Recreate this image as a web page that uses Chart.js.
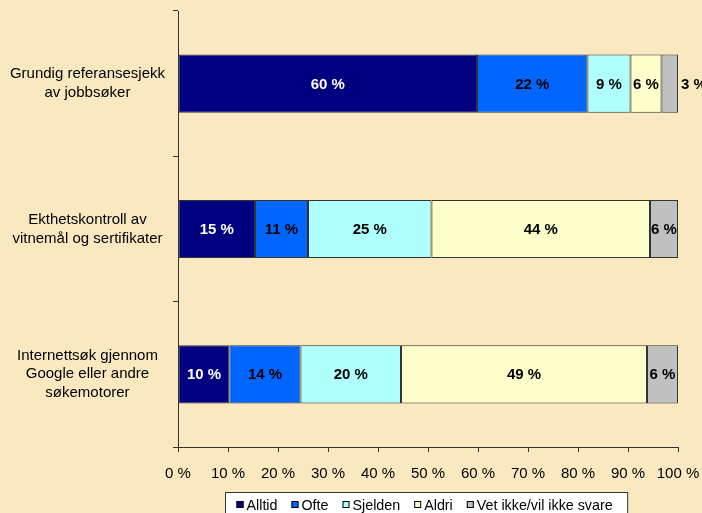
<!DOCTYPE html>
<html>
<head>
<meta charset="utf-8">
<script src="https://cdn.jsdelivr.net/npm/chart.js@4/dist/chart.umd.min.js"></script>
<style>
  html, body { margin: 0; padding: 0; background: #FAE8C0; }
  #wrap { width: 702px; height: 513px; }
</style>
</head>
<body>
<div id="wrap"><canvas id="bar-chart" width="702" height="513"></canvas></div>
<script>
// data
var categories = [
  ['Grundig referansesjekk', 'av jobbsøker'],
  ['Ekthetskontroll av', 'vitnemål og sertifikater'],
  ['Internettsøk gjennom', 'Google eller andre', 'søkemotorer']
];
var seriesNames = ['Alltid', 'Ofte', 'Sjelden', 'Aldri', 'Vet ikke/vil ikke svare'];
var alltid  = [59.8, 15.4, 10.3];
var ofte    = [22.1, 10.6, 14.2];
var sjelden = [8.6, 24.7, 20.1];
var aldri   = [6.2, 43.7, 49.2];
var vetIkke = [3.3, 5.6, 6.2];
var xTicks = [0, 10, 20, 30, 40, 50, 60, 70, 80, 90, 100];

var colors = ['#000080', '#0066FF', '#B0FFFF', '#FFFFCC', '#C0C0C0'];
var labelColors = ['#FFFFFF', '#000000', '#000000', '#000000', '#000000'];
var FONT = "'Liberation Sans', Arial, sans-serif";

var seriesValues = [alltid, ofte, sjelden, aldri, vetIkke];
var datasets = seriesValues.map(function (vals, i) {
  return {
    label: seriesNames[i],
    data: vals,
    backgroundColor: colors[i],
    borderColor: '#333333',
    borderWidth: 1,
    borderSkipped: false,
    barPercentage: 0.4,
    categoryPercentage: 1.0
  };
});

// value labels inside the segments
var segmentLabels = {
  id: 'segmentLabels',
  afterDatasetsDraw: function (chart) {
    var ctx = chart.ctx;
    ctx.save();
    ctx.font = 'bold 15px ' + FONT;
    ctx.textBaseline = 'middle';
    chart.data.datasets.forEach(function (ds, i) {
      var meta = chart.getDatasetMeta(i);
      meta.data.forEach(function (bar, j) {
        var txt = Math.round(ds.data[j]) + ' %';
        var w = ctx.measureText(txt).width;
        var left = Math.min(bar.x, bar.base), right = Math.max(bar.x, bar.base);
        if (right - left < w) {
          ctx.fillStyle = '#000000';
          ctx.textAlign = 'left';
          ctx.fillText(txt, right + 3, bar.y + 1);
        } else {
          ctx.fillStyle = labelColors[i];
          ctx.textAlign = 'center';
          ctx.fillText(txt, (left + right) / 2, bar.y + 1);
        }
      });
    });
    ctx.restore();
  }
};

// boxed legend centred under the plot area
var boxLegend = {
  id: 'boxLegend',
  afterDraw: function (chart) {
    var ctx = chart.ctx, area = chart.chartArea;
    ctx.save();
    ctx.font = '14.3px ' + FONT;
    ctx.textBaseline = 'middle';
    var sq = 7, sqGap = 10, itemGap = 14, padL = 11, padR = 15;
    var total = padL + padR;
    seriesNames.forEach(function (n, i) {
      total += sqGap + ctx.measureText(n).width + (i < seriesNames.length - 1 ? itemGap : 0);
    });
    var bx = Math.round((area.left + area.right) / 2 - 2 - total / 2) + 0.5;
    var by = 492.5, cy = 505;
    ctx.fillStyle = '#FFFFFF';
    ctx.fillRect(bx, by, total, 30);
    ctx.strokeStyle = '#333333';
    ctx.lineWidth = 1;
    ctx.strokeRect(bx, by, total, 30);
    var x = bx + padL;
    seriesNames.forEach(function (n, i) {
      ctx.fillStyle = colors[i];
      ctx.fillRect(x, cy - 4, sq, sq);
      ctx.strokeStyle = '#000000';
      ctx.strokeRect(x + 0.5, cy - 3.5, sq - 1, sq - 1);
      ctx.fillStyle = '#000000';
      ctx.textAlign = 'left';
      ctx.fillText(n, x + sqGap, cy + 1);
      x += sqGap + ctx.measureText(n).width + itemGap;
    });
    ctx.restore();
  }
};

var barChart = new Chart(
  document.getElementById('bar-chart').getContext('2d'),
  {
    type: 'bar',
    data: { labels: categories, datasets: datasets },
    plugins: [segmentLabels, boxLegend],
    options: {
      responsive: false,
      animation: false,
      indexAxis: 'y',
      layout: { padding: { top: 11, right: 24, bottom: 0, left: 0 } },
      plugins: {
        legend: { display: false },
        tooltip: { enabled: false }
      },
      scales: {
        x: {
          stacked: true,
          min: 0,
          max: 100,
          afterFit: function (scale) {
            scale.height = 66;
            scale.paddingLeft = 0;
            scale.paddingRight = 0;
          },
          afterBuildTicks: function (scale) {
            scale.ticks = xTicks.map(function (v) { return { value: v }; });
          },
          ticks: {
            color: '#000000',
            font: { family: FONT, size: 15 },
            padding: 13,
            maxRotation: 0,
            autoSkip: false,
            callback: function (v) { return v + ' %'; }
          },
          grid: { drawOnChartArea: false, drawTicks: true, tickLength: 5, color: '#333333' },
          border: { display: true, color: '#333333' }
        },
        y: {
          stacked: true,
          afterFit: function (scale) {
            scale.width = 178;
            scale.paddingTop = 0;
            scale.paddingBottom = 0;
          },
          ticks: {
            color: '#000000',
            crossAlign: 'center',
            padding: 8,
            font: { family: FONT, size: 15, lineHeight: 1.25 }
          },
          grid: { offset: true, drawOnChartArea: false, drawTicks: true, tickLength: 5, color: '#333333' },
          border: { display: true, color: '#333333' }
        }
      }
    }
  }
);
</script>
</body>
</html>
